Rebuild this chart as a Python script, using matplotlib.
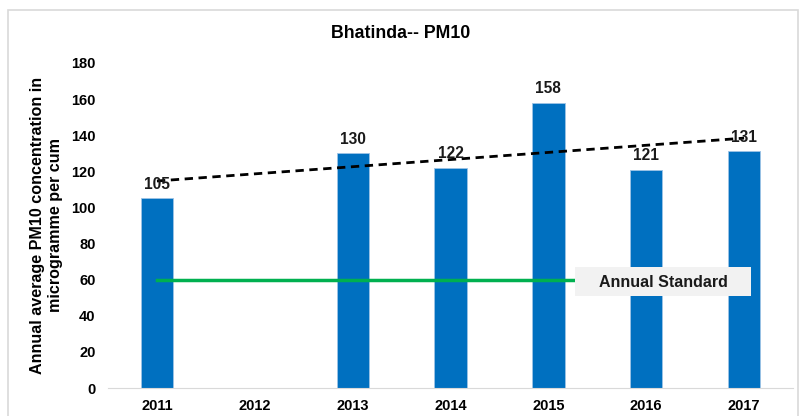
import matplotlib.pyplot as plt
import matplotlib.patches as mpatches
import numpy as np

# chart data
years = ['2011', '2012', '2013', '2014', '2015', '2016', '2017']
pm10 = [105, np.nan, 130, 122, 158, 121, 131]
standard = 60
yticks = [0, 20, 40, 60, 80, 100, 120, 140, 160, 180]

plt.rcParams['font.family'] = ['Liberation Sans', 'DejaVu Sans']

fig = plt.figure(figsize=(8.02, 4.16), dpi=100)
ax = fig.add_axes([0.1347, 0.0673, 0.8541, 0.7813])

# outer chart border
fig.patches.append(mpatches.Rectangle((8 / 802, -0.05), 0.995 - 8 / 802, 1.026,
                                      transform=fig.transFigure, fill=False,
                                      edgecolor='#D9D9D9', linewidth=1.2))

x = np.arange(len(years))
vals = np.array(pm10, dtype=float)
ax.bar(x, np.nan_to_num(vals), width=0.33, color='#0070C0',
       edgecolor='#9DC3E6', linewidth=0.6, zorder=2)

for xi, v in zip(x, vals):
    if not np.isnan(v):
        ax.text(xi, v + 3.5, f'{int(v)}', ha='center', va='bottom',
                fontsize=11.2, fontweight='bold', color='#1a1a1a', zorder=4)

# linear trend over available years
ok = ~np.isnan(vals)
slope, icpt = np.polyfit(x[ok], vals[ok], 1)
ax.plot([x[0], x[-1]], [icpt + slope * x[0], icpt + slope * x[-1]],
        color='black', linestyle='--', linewidth=2, dashes=(3, 2), zorder=3)

# annual standard line, label box covers its right end
ax.plot([x[0], x[-1]], [standard, standard], color='#00B050', linewidth=2.5, zorder=3)
ax.add_patch(mpatches.Rectangle((4.275, 50.9), 1.8, 16.1, facecolor='#F2F2F2',
                                edgecolor='none', zorder=5))
ax.text(5.175, standard - 1.8, 'Annual Standard', ha='center', va='center',
        fontsize=11.5, fontweight='bold', color='#1a1a1a', zorder=6)

ax.set_xlim(-0.5, len(years) - 0.5)
ax.set_ylim(0, 180)
ax.set_xticks(x)
ax.set_xticklabels(years, fontsize=10.5, fontweight='bold')
ax.set_yticks(yticks)
ax.set_yticklabels([str(t) for t in yticks], fontsize=10.5, fontweight='bold')
ax.tick_params(length=0, pad=8)
ax.tick_params(axis='y', pad=9)

for s in ['top', 'right', 'left']:
    ax.spines[s].set_visible(False)
ax.spines['bottom'].set_color('#D9D9D9')

ax.set_ylabel('Annual average PM10 concentration in\nmicrogramme per cum',
              fontsize=11.6, fontweight='bold', labelpad=6)

fig.text(0.5, 0.92, 'Bhatinda-- PM10', ha='center', va='center',
         fontsize=12.8, fontweight='bold')

fig.savefig('out.png', dpi=100)
